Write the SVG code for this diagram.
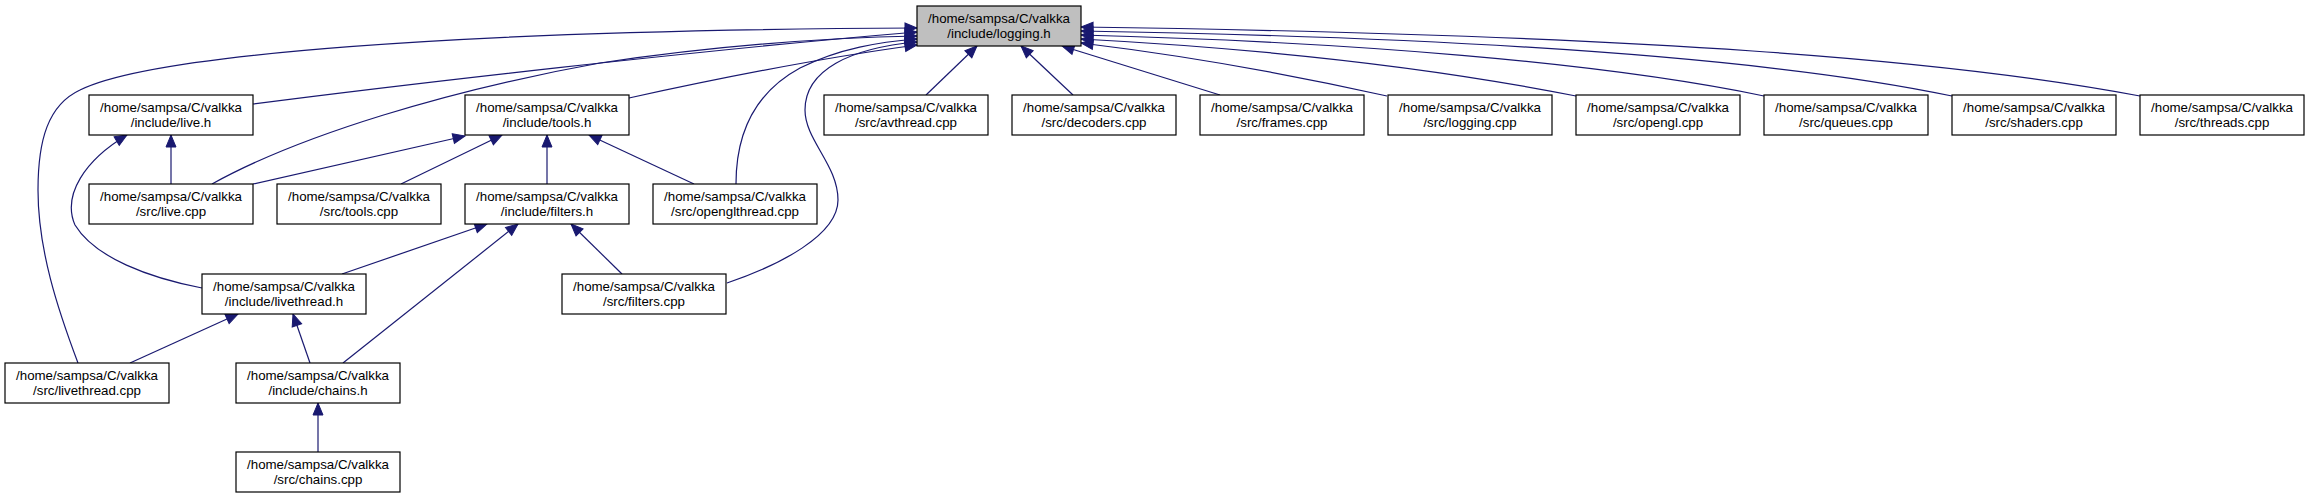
<svg xmlns="http://www.w3.org/2000/svg" width="2309" height="499" viewBox="0 0 2309 499">
<style>
.n rect{fill:#fff;stroke:#000;stroke-width:1.2}
.n.root rect{fill:#bfbfbf}
.n text{font-family:"Liberation Sans",Arial,Helvetica,sans-serif;font-size:13.3px;fill:#000;text-anchor:middle}
.e path{fill:none;stroke:#191970;stroke-width:1.2;marker-end:url(#arr)}
</style>
<defs>
<marker id="arr" markerUnits="userSpaceOnUse" markerWidth="13" markerHeight="11" refX="12" refY="5" orient="auto" overflow="visible">
<path d="M0,0 L12,5 L0,10 z" fill="#191970" stroke="#191970" stroke-width="1"/>
</marker>
</defs>
<rect width="2309" height="499" fill="#fff"/>
<g id="edges" class="e">
<path d="M78,363 C58,310 38,250 38,190 C38,140 48,105 80,90 C150,55 450,30 917,28"/>
<path d="M253,104 C400,85 700,50 917,32"/>
<path d="M212,184 C300,135 450,90 600,63 C720,45 820,38 917,36"/>
<path d="M629,98 C720,78 820,58 917,45"/>
<path d="M736,184 C736,140 750,95 800,68 C840,48 880,42 917,39"/>
<path d="M727,283 C780,265 838,235 838,200 C838,165 805,140 805,110 C805,70 850,48 917,42"/>
<path d="M926,95 L977,46"/>
<path d="M1073,95 L1021,46"/>
<path d="M1220,95 L1062,46"/>
<path d="M1387,96 C1280,72 1180,55 1081,43"/>
<path d="M1576,96 C1420,65 1250,48 1081,39"/>
<path d="M1764,96 C1600,62 1350,42 1081,35"/>
<path d="M1952,96 C1780,60 1500,38 1081,31"/>
<path d="M2140,96 C1950,60 1650,35 1081,27"/>
<path d="M171,184 L171,135"/>
<path d="M202,288 C150,278 95,258 75,225 C62,195 85,160 127,135"/>
<path d="M253,184 L465,136"/>
<path d="M401,184 L502,135"/>
<path d="M547,184 L547,135"/>
<path d="M694,184 L589,135"/>
<path d="M342,274 L487,224"/>
<path d="M343,363 L518,224"/>
<path d="M622,274 L571,224"/>
<path d="M130,363 L238,314"/>
<path d="M310,363 L293,314"/>
<path d="M318,452 L318,403"/>
</g>
<g id="node-logging_h" class="n root"><rect x="917" y="6" width="164" height="40"/><text x="999" y="22.5">/home/sampsa/C/valkka</text><text x="999" y="37.5">/include/logging.h</text></g>
<g id="node-live_h" class="n"><rect x="89" y="95" width="164" height="40"/><text x="171" y="111.5">/home/sampsa/C/valkka</text><text x="171" y="126.5">/include/live.h</text></g>
<g id="node-tools_h" class="n"><rect x="465" y="95" width="164" height="40"/><text x="547" y="111.5">/home/sampsa/C/valkka</text><text x="547" y="126.5">/include/tools.h</text></g>
<g id="node-avthread_cpp" class="n"><rect x="824" y="95" width="164" height="40"/><text x="906" y="111.5">/home/sampsa/C/valkka</text><text x="906" y="126.5">/src/avthread.cpp</text></g>
<g id="node-decoders_cpp" class="n"><rect x="1012" y="95" width="164" height="40"/><text x="1094" y="111.5">/home/sampsa/C/valkka</text><text x="1094" y="126.5">/src/decoders.cpp</text></g>
<g id="node-frames_cpp" class="n"><rect x="1200" y="95" width="164" height="40"/><text x="1282" y="111.5">/home/sampsa/C/valkka</text><text x="1282" y="126.5">/src/frames.cpp</text></g>
<g id="node-logging_cpp" class="n"><rect x="1388" y="95" width="164" height="40"/><text x="1470" y="111.5">/home/sampsa/C/valkka</text><text x="1470" y="126.5">/src/logging.cpp</text></g>
<g id="node-opengl_cpp" class="n"><rect x="1576" y="95" width="164" height="40"/><text x="1658" y="111.5">/home/sampsa/C/valkka</text><text x="1658" y="126.5">/src/opengl.cpp</text></g>
<g id="node-queues_cpp" class="n"><rect x="1764" y="95" width="164" height="40"/><text x="1846" y="111.5">/home/sampsa/C/valkka</text><text x="1846" y="126.5">/src/queues.cpp</text></g>
<g id="node-shaders_cpp" class="n"><rect x="1952" y="95" width="164" height="40"/><text x="2034" y="111.5">/home/sampsa/C/valkka</text><text x="2034" y="126.5">/src/shaders.cpp</text></g>
<g id="node-threads_cpp" class="n"><rect x="2140" y="95" width="164" height="40"/><text x="2222" y="111.5">/home/sampsa/C/valkka</text><text x="2222" y="126.5">/src/threads.cpp</text></g>
<g id="node-live_cpp" class="n"><rect x="89" y="184" width="164" height="40"/><text x="171" y="200.5">/home/sampsa/C/valkka</text><text x="171" y="215.5">/src/live.cpp</text></g>
<g id="node-tools_cpp" class="n"><rect x="277" y="184" width="164" height="40"/><text x="359" y="200.5">/home/sampsa/C/valkka</text><text x="359" y="215.5">/src/tools.cpp</text></g>
<g id="node-filters_h" class="n"><rect x="465" y="184" width="164" height="40"/><text x="547" y="200.5">/home/sampsa/C/valkka</text><text x="547" y="215.5">/include/filters.h</text></g>
<g id="node-openglthread_cpp" class="n"><rect x="653" y="184" width="164" height="40"/><text x="735" y="200.5">/home/sampsa/C/valkka</text><text x="735" y="215.5">/src/openglthread.cpp</text></g>
<g id="node-livethread_h" class="n"><rect x="202" y="274" width="164" height="40"/><text x="284" y="290.5">/home/sampsa/C/valkka</text><text x="284" y="305.5">/include/livethread.h</text></g>
<g id="node-filters_cpp" class="n"><rect x="562" y="274" width="164" height="40"/><text x="644" y="290.5">/home/sampsa/C/valkka</text><text x="644" y="305.5">/src/filters.cpp</text></g>
<g id="node-livethread_cpp" class="n"><rect x="5" y="363" width="164" height="40"/><text x="87" y="379.5">/home/sampsa/C/valkka</text><text x="87" y="394.5">/src/livethread.cpp</text></g>
<g id="node-chains_h" class="n"><rect x="236" y="363" width="164" height="40"/><text x="318" y="379.5">/home/sampsa/C/valkka</text><text x="318" y="394.5">/include/chains.h</text></g>
<g id="node-chains_cpp" class="n"><rect x="236" y="452" width="164" height="40"/><text x="318" y="468.5">/home/sampsa/C/valkka</text><text x="318" y="483.5">/src/chains.cpp</text></g>
</svg>
